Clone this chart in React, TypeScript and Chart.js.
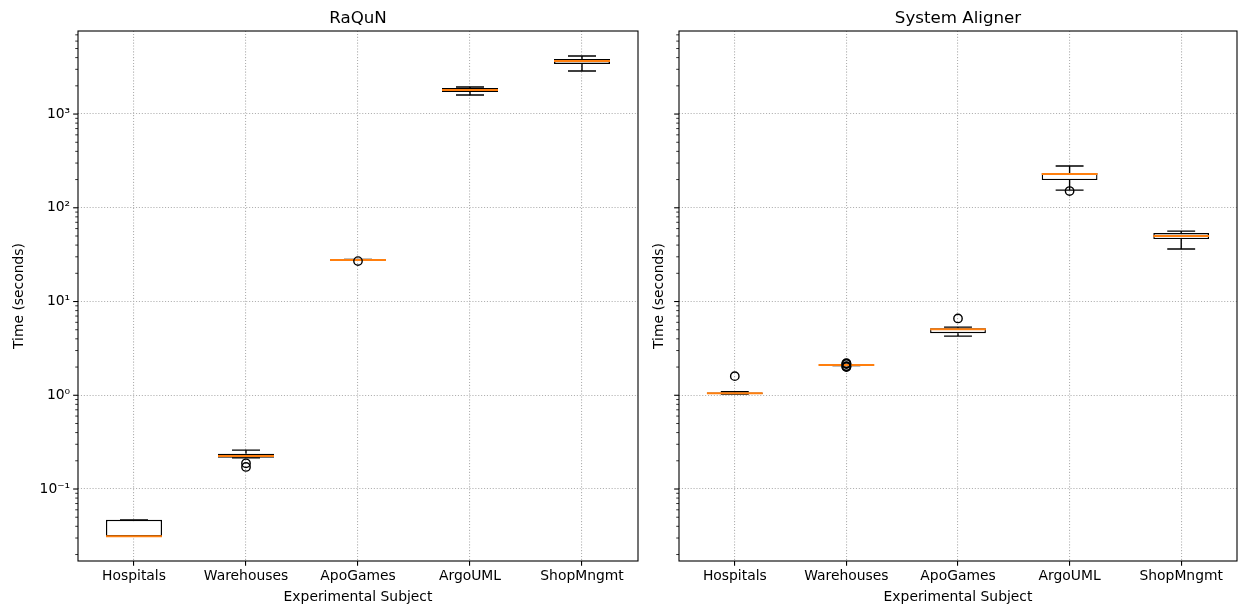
import React, { useEffect, useRef } from 'react';
import { Chart, registerables } from 'chart.js';

Chart.register(...registerables);

// ---------- data ----------
const CATEGORIES = ['Hospitals', 'Warehouses', 'ApoGames', 'ArgoUML', 'ShopMngmt'];

// RaQuN panel (seconds)
const RAQUN_WHISKER_LOW = [0.03125, 0.215, 27.5, 1596, 2878];
const RAQUN_Q1 = [0.03125, 0.215, 27.6, 1718, 3421];
const RAQUN_MEDIAN = [0.03125, 0.225, 27.8, 1803, 3680];
const RAQUN_Q3 = [0.046875, 0.238, 28.0, 1893, 3864];
const RAQUN_WHISKER_HIGH = [0.046875, 0.26, 28.2, 1942, 4159];
const RAQUN_OUTLIERS = [[], [0.188, 0.172], [27.0], [], []];

// System Aligner panel (seconds)
const SA_WHISKER_LOW = [1.03, 2.08, 4.28, 154.5, 36.3];
const SA_Q1 = [1.03, 2.09, 4.6, 197.7, 46.4];
const SA_MEDIAN = [1.05, 2.1, 5.07, 229, 49.9];
const SA_Q3 = [1.07, 2.11, 5.2, 234.5, 53.7];
const SA_WHISKER_HIGH = [1.09, 2.12, 5.33, 278.7, 56.4];
const SA_OUTLIERS = [[1.6], [2.0, 2.02, 2.05, 2.15, 2.18, 2.2], [6.6], [150.8], []];

// shared log y axis
const Y_MIN = 0.01706;
const Y_MAX = 7690;
const MAJOR_TICK_VALUES = [0.1, 1, 10, 100, 1000];
const MAJOR_TICK_LABELS = ['10⁻¹', '10⁰', '10¹', '10²', '10³'];
const MINOR_MULTIPLIERS = [1, 2, 3, 4, 5, 6, 7, 8, 9];
const DECADE_EXPONENTS = [-2, -1, 0, 1, 2, 3];

const Y_TICKS: number[] = [];
DECADE_EXPONENTS.forEach((e) =>
  MINOR_MULTIPLIERS.forEach((s) => {
    const v = s * Math.pow(10, e);
    if (v >= Y_MIN && v <= Y_MAX) Y_TICKS.push(v);
  })
);

const FONT = "'DejaVu Sans', 'Liberation Sans', sans-serif";
const FS = 13.89;
const MEDIAN_COLOR = '#ff7f0e';
const GRID_COLOR = '#b0b0b0';
const GRID_DASH = [1.1, 1.8];

function majorIndex(v: number) {
  return MAJOR_TICK_VALUES.findIndex((t) => Math.abs(v - t) / t < 1e-6);
}

Chart.defaults.font.family = FONT;
Chart.defaults.font.size = FS;
Chart.defaults.color = '#000';

type PanelSpec = {
  title: string;
  low: number[];
  q1: number[];
  med: number[];
  q3: number[];
  high: number[];
  outliers: number[][];
  showYLabels: boolean;
  yAxisWidth: number;
  yTitlePad: number;
  padRight: number;
};

function makeConfig(p: PanelSpec): any {
  const outlierPoints: { x: string; y: number }[] = [];
  p.outliers.forEach((arr, i) => arr.forEach((v) => outlierPoints.push({ x: CATEGORIES[i], y: v })));

  const boxParts = {
    id: 'boxParts',
    afterDatasetDraw(chart: any, args: any) {
      if (args.index !== 0) return;
      const { ctx, scales } = chart;
      const x = scales.x;
      const y = scales.y;
      const unit = x.getPixelForValue(1) - x.getPixelForValue(0);
      ctx.save();
      for (let i = 0; i < CATEGORIES.length; i++) {
        const cx = x.getPixelForValue(i);
        ctx.strokeStyle = '#000';
        ctx.lineWidth = 1.39;
        // whiskers
        ctx.beginPath();
        ctx.moveTo(cx, y.getPixelForValue(p.q3[i]));
        ctx.lineTo(cx, y.getPixelForValue(p.high[i]));
        ctx.moveTo(cx, y.getPixelForValue(p.q1[i]));
        ctx.lineTo(cx, y.getPixelForValue(p.low[i]));
        ctx.stroke();
        // caps
        const ch = unit * 0.125;
        ctx.beginPath();
        const yh = y.getPixelForValue(p.high[i]);
        const yl = y.getPixelForValue(p.low[i]);
        ctx.moveTo(cx - ch, yh);
        ctx.lineTo(cx + ch, yh);
        ctx.moveTo(cx - ch, yl);
        ctx.lineTo(cx + ch, yl);
        ctx.stroke();
        // median
        const bh = unit * 0.25;
        const ym = y.getPixelForValue(p.med[i]);
        ctx.strokeStyle = MEDIAN_COLOR;
        ctx.lineWidth = 2;
        ctx.beginPath();
        ctx.moveTo(cx - bh, ym);
        ctx.lineTo(cx + bh, ym);
        ctx.stroke();
      }
      ctx.restore();
    },
  };

  const frame = {
    id: 'frame',
    afterDraw(chart: any) {
      const { ctx, chartArea: a, scales } = chart;
      const y = scales.y;
      ctx.save();
      ctx.strokeStyle = '#000';
      ctx.lineWidth = 1.1;
      ctx.strokeRect(a.left, a.top, a.right - a.left, a.bottom - a.top);
      Y_TICKS.forEach((v) => {
        const py = y.getPixelForValue(v);
        const major = majorIndex(v) >= 0;
        ctx.lineWidth = major ? 1.1 : 0.8;
        ctx.beginPath();
        ctx.moveTo(a.left, py);
        ctx.lineTo(a.left - (major ? 4.86 : 2.78), py);
        ctx.stroke();
      });
      ctx.restore();
    },
  };

  return {
    type: 'bar',
    data: {
      labels: CATEGORIES,
      datasets: [
        {
          type: 'bar',
          data: p.q1.map((v, i) => [v, p.q3[i]]),
          backgroundColor: '#ffffff',
          borderColor: '#000',
          borderWidth: 1.39,
          borderSkipped: false,
          barPercentage: 0.5,
          categoryPercentage: 1,
          order: 2,
        },
        {
          type: 'line',
          data: outlierPoints,
          showLine: false,
          pointStyle: 'circle',
          pointRadius: 4.2,
          pointBorderColor: '#000',
          pointBackgroundColor: 'rgba(0,0,0,0)',
          pointBorderWidth: 1.39,
          order: 0,
        },
      ],
    },
    options: {
      responsive: false,
      animation: false,
      layout: { autoPadding: false, padding: { left: 0, right: p.padRight, top: 0, bottom: 0 } },
      plugins: {
        legend: { display: false },
        tooltip: { enabled: false },
        title: {
          display: true,
          text: p.title,
          fullSize: false,
          color: '#000',
          font: { size: 16.67, weight: 'normal', family: FONT },
          padding: { top: 9, bottom: 2 },
        },
      },
      scales: {
        x: {
          type: 'category',
          offset: true,
          afterFit: (scale: any) => {
            scale.height = 51;
            scale.paddingLeft = 0;
            scale.paddingRight = 0;
          },
          grid: {
            offset: false,
            color: GRID_COLOR,
            lineWidth: 1.1,
            tickLength: 4.86,
            tickColor: '#000',
            tickWidth: 1.1,
            tickBorderDash: [],
          },
          border: { display: false, dash: GRID_DASH },
          ticks: { padding: 2.5, maxRotation: 0, autoSkip: false, color: '#000' },
          title: {
            display: true,
            text: 'Experimental Subject',
            color: '#000',
            padding: { top: 0, bottom: 6.5 },
          },
        },
        y: {
          type: 'logarithmic',
          min: Y_MIN,
          max: Y_MAX,
          afterBuildTicks: (scale: any) => {
            scale.ticks = Y_TICKS.map((v) => ({ value: v }));
          },
          afterFit: (scale: any) => {
            scale.width = p.yAxisWidth;
            scale.paddingTop = 0;
            scale.paddingBottom = 0;
          },
          grid: {
            color: (c: any) => (c.tick && majorIndex(c.tick.value) >= 0 ? GRID_COLOR : 'rgba(0,0,0,0)'),
            lineWidth: 1.1,
            tickLength: 4.86,
            tickColor: 'rgba(0,0,0,0)',
            tickBorderDash: [],
          },
          border: { display: false, dash: GRID_DASH },
          ticks: {
            autoSkip: false,
            padding: 3,
            color: '#000',
            callback: (v: any) => {
              if (!p.showYLabels) return '';
              const i = majorIndex(Number(v));
              return i >= 0 ? MAJOR_TICK_LABELS[i] : '';
            },
          },
          title: {
            display: true,
            text: 'Time (seconds)',
            color: '#000',
            padding: { top: p.yTitlePad, bottom: 0 },
          },
        },
      },
    },
    plugins: [boxParts, frame],
  };
}

const LEFT_SPEC: PanelSpec = {
  title: 'RaQuN',
  low: RAQUN_WHISKER_LOW,
  q1: RAQUN_Q1,
  med: RAQUN_MEDIAN,
  q3: RAQUN_Q3,
  high: RAQUN_WHISKER_HIGH,
  outliers: RAQUN_OUTLIERS,
  showYLabels: true,
  yAxisWidth: 78,
  yTitlePad: 10.7,
  padRight: 2,
};

const RIGHT_SPEC: PanelSpec = {
  title: 'System Aligner',
  low: SA_WHISKER_LOW,
  q1: SA_Q1,
  med: SA_MEDIAN,
  q3: SA_Q3,
  high: SA_WHISKER_HIGH,
  outliers: SA_OUTLIERS,
  showYLabels: false,
  yAxisWidth: 39,
  yTitlePad: 11.2,
  padRight: 1,
};

function Panel({ spec, left, width }: { spec: PanelSpec; left: number; width: number }) {
  const ref = useRef<HTMLCanvasElement | null>(null);
  useEffect(() => {
    if (!ref.current) return;
    const chart = new Chart(ref.current, makeConfig(spec));
    return () => chart.destroy();
  }, [spec]);
  return (
    <canvas
      ref={ref}
      width={width}
      height={612}
      style={{ position: 'absolute', left, top: 0, width, height: 612 }}
    />
  );
}

export default function App() {
  return (
    <div style={{ position: 'absolute', left: 0, top: 0, width: 1238, height: 612, background: '#fff' }}>
      <Panel spec={LEFT_SPEC} left={0} width={640} />
      <Panel spec={RIGHT_SPEC} left={640} width={598} />
    </div>
  );
}
